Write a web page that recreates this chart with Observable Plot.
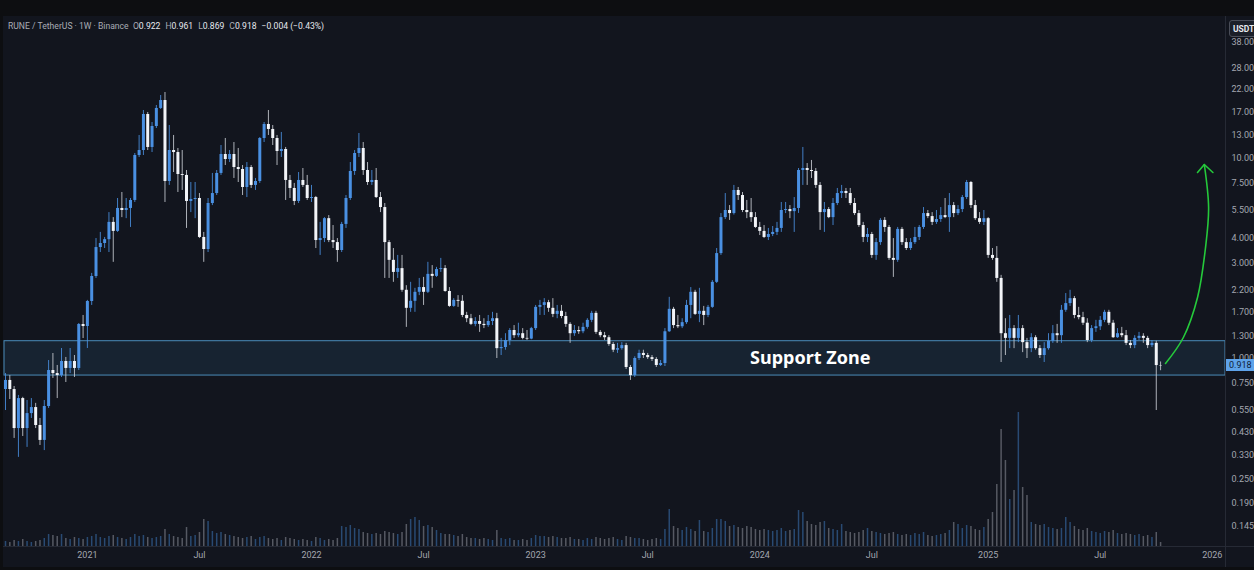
<!DOCTYPE html>
<html><head><meta charset="utf-8">
<script src="https://cdn.jsdelivr.net/npm/d3@7"></script>
<script src="https://cdn.jsdelivr.net/npm/@observablehq/plot@0.6"></script>
<style>
html,body{margin:0;padding:0;background:#0d0e11;}
#wrap{position:relative;width:1254px;height:570px;overflow:hidden;font-family:Roboto,"Noto Sans",sans-serif;}
#pane{position:absolute;left:3px;top:16px;width:1251px;height:551px;background:#12151e;}
.layer{position:absolute;left:0;top:0;}
.vsep{position:absolute;left:1225px;top:16px;width:1px;height:551px;background:#262a35;}
.hsep{position:absolute;left:3px;top:546px;width:1251px;height:1px;background:#262a35;}
#hdr{position:absolute;left:8px;top:21px;font-size:8.6px;color:#a9acb5;white-space:nowrap;}
#hdr .v{color:#e6e8ee;margin-right:5px;}
#usdt{position:absolute;left:1229px;top:20px;width:34px;height:17px;line-height:17px;background:#1b1f29;border:1px solid #4a4e59;border-radius:3px;color:#e6e8ee;font-size:8.5px;font-weight:700;padding-left:3px;box-sizing:border-box;}
#plabel{position:absolute;left:1226px;width:30px;height:12px;line-height:12px;background:#5ea3ea;color:#0e2036;font-size:9px;padding-left:3px;box-sizing:border-box;}
</style></head>
<body><div id="wrap">
<div id="pane"></div>
<div id="vol" class="layer"></div>
<div id="main" class="layer"></div>
<div class="vsep"></div><div class="hsep"></div>
<div id="hdr">RUNE / TetherUS · 1W · Binance&nbsp;&nbsp;O<span class="v">0.922</span>H<span class="v">0.961</span>L<span class="v">0.869</span>C<span class="v">0.918</span><span class="v">−0.004 (−0.43%)</span></div>
<div id="usdt">USDT</div>
<div id="plabel">0.918</div>
</div>
<script>
// ---- data: RUNE/USDT weekly candles (first week starting 2020-08-24) ----
const firstWeek = "2020-08-24";
const openP = [
0.700,0.777,0.700,0.447,0.631,0.447,0.531,0.569,0.463,0.390,
0.576,0.871,0.841,0.822,0.966,0.892,0.966,0.892,1.478,1.444,
1.926,2.566,3.58,3.75,3.92,4.78,4.31,5.61,5.48,5.61,
6.15,10.31,10.92,16.52,11.31,14.39,17.71,19.40,7.65,10.92,
10.67,8.29,8.20,6.08,6.22,6.29,4.02,3.50,5.94,6.66,
8.39,10.43,9.85,10.43,8.98,8.78,7.14,8.98,7.31,7.65,
12.54,14.73,13.91,12.54,10.80,11.05,7.74,7.06,6.08,7.74,
7.31,6.29,6.36,3.88,3.97,4.99,3.88,3.79,3.46,4.67,
6.29,8.58,10.55,11.18,8.68,7.56,7.74,6.36,5.67,3.79,
3.09,2.69,2.81,2.19,1.78,1.93,2.14,2.26,2.14,2.63,
2.57,2.78,2.81,2.16,1.82,1.95,1.93,1.64,1.58,1.48,
1.53,1.48,1.46,1.53,1.58,1.12,1.135,1.23,1.38,1.30,
1.33,1.26,1.25,1.41,1.80,1.84,1.90,1.78,1.66,1.72,
1.62,1.48,1.33,1.38,1.36,1.43,1.55,1.68,1.35,1.30,
1.27,1.175,1.10,1.12,1.16,0.902,0.822,1.00,1.06,1.035,
1.01,0.989,0.923,0.944,1.36,1.76,1.46,1.44,1.51,1.84,
2.14,1.66,1.72,1.64,1.80,2.40,3.34,5.05,5.48,5.29,
6.90,6.51,5.48,5.35,5.05,4.51,4.31,4.02,4.16,4.26,
4.46,5.48,5.54,5.41,5.61,8.68,8.88,8.68,8.58,7.31,
5.35,5.54,5.05,5.94,6.66,6.82,6.66,5.94,5.29,4.61,
4.02,4.16,3.27,3.79,4.89,4.51,3.16,3.09,4.41,3.79,
3.54,3.79,4.02,4.51,5.29,5.11,4.78,4.94,5.17,5.05,
5.80,5.29,5.54,6.36,7.56,5.80,4.99,4.78,4.99,3.27,
3.16,2.51,1.33,1.26,1.41,1.26,1.41,1.20,1.12,1.27,
1.12,1.035,1.12,1.22,1.33,1.30,1.74,1.88,1.99,1.64,
1.60,1.50,1.23,1.41,1.44,1.55,1.70,1.50,1.27,1.33,
1.30,1.19,1.16,1.26,1.29,1.26,1.16,1.19,0.922];
const highP = [
0.841,0.822,0.725,0.654,0.640,0.617,0.631,0.597,0.502,0.617,
0.977,1.059,0.923,1.122,1.012,1.122,1.035,1.495,1.64,1.95,
2.66,3.97,4.26,4.02,5.35,5.05,6.29,6.74,6.29,6.29,
10.55,12.98,17.30,16.91,15.07,18.32,20.55,21.27,14.56,12.98,
11.18,10.92,8.68,7.56,7.56,6.66,4.26,6.29,8.39,8.68,
11.57,12.54,10.92,11.97,11.18,9.19,9.51,9.19,7.92,12.68,
15.07,17.30,14.56,12.98,13.44,11.31,8.20,7.48,8.48,8.88,
8.20,7.31,6.44,4.78,5.05,5.17,4.61,3.97,4.78,6.51,
9.51,10.92,13.28,11.97,9.51,8.68,8.88,6.74,5.94,3.88,
3.54,3.27,3.27,2.31,2.40,2.24,2.51,2.54,3.02,2.91,
2.85,3.16,2.91,2.26,1.99,2.06,2.06,1.70,1.66,1.60,
1.64,1.58,1.64,1.70,1.68,1.26,1.33,1.41,1.46,1.50,
1.41,1.38,1.43,1.84,1.95,1.99,1.95,1.99,1.84,1.84,
1.70,1.51,1.46,1.44,1.50,1.58,1.72,1.72,1.38,1.35,
1.30,1.20,1.19,1.20,1.19,0.923,1.02,1.10,1.10,1.06,
1.035,1.01,0.977,1.41,2.02,1.80,1.64,1.58,1.95,2.26,
2.19,2.24,1.82,1.84,2.45,3.54,5.29,6.66,5.80,7.31,
7.14,6.74,6.15,6.29,5.35,4.78,4.61,4.46,4.56,4.78,
6.01,6.01,5.80,6.36,8.88,11.31,9.40,9.74,8.88,7.56,
6.01,5.67,6.29,7.06,7.31,7.06,7.06,6.29,5.48,4.78,
4.46,4.26,3.97,4.99,5.05,4.61,3.97,4.51,4.51,3.97,
3.97,4.51,4.61,5.67,5.48,5.35,5.48,5.67,6.29,6.66,
6.01,5.80,6.51,7.74,7.65,6.15,5.35,5.48,5.05,3.54,
3.62,2.60,1.58,1.64,1.46,1.64,1.46,1.26,1.33,1.30,
1.16,1.20,1.33,1.46,1.48,1.84,2.11,2.19,2.04,1.80,
1.70,1.58,1.46,1.55,1.62,1.74,1.74,1.55,1.41,1.43,
1.38,1.23,1.30,1.35,1.33,1.29,1.23,1.22,0.961];
const lowP = [
0.550,0.624,0.399,0.321,0.408,0.360,0.502,0.447,0.368,0.347,
0.563,0.795,0.631,0.804,0.759,0.841,0.804,0.871,1.258,1.122,
1.84,2.51,3.38,3.54,3.38,3.02,4.26,5.05,4.99,4.51,
6.01,10.08,10.31,10.92,10.67,14.06,17.50,6.01,7.31,8.48,
6.74,6.90,4.46,5.35,4.99,3.97,3.02,3.38,5.80,6.51,
8.20,9.19,9.51,7.92,7.56,6.51,6.36,7.06,6.90,7.48,
11.97,12.98,11.57,9.19,10.08,6.15,6.29,5.80,5.94,7.14,
6.15,6.01,3.54,3.27,3.79,3.79,3.54,3.02,3.38,4.46,
6.15,8.20,10.08,8.20,7.31,7.31,6.29,5.35,2.51,2.51,
2.40,2.51,2.14,1.43,1.70,1.70,2.06,1.84,2.11,2.24,
2.54,2.69,2.14,1.80,1.80,1.80,1.60,1.51,1.46,1.44,
1.35,1.41,1.43,1.46,1.00,1.035,1.10,1.16,1.26,1.27,
1.24,1.23,1.24,1.38,1.64,1.64,1.70,1.60,1.58,1.58,
1.43,1.19,1.29,1.32,1.33,1.40,1.51,1.32,1.27,1.23,
1.15,1.07,1.06,1.10,0.881,0.777,0.804,0.977,1.00,0.989,
0.966,0.902,0.912,0.912,1.35,1.41,1.41,1.41,1.48,1.58,
1.64,1.51,1.46,1.60,1.78,2.37,3.27,4.94,4.89,5.20,
6.15,5.35,4.99,4.78,4.46,4.11,3.97,3.88,4.06,4.11,
4.26,5.29,4.99,4.26,5.30,7.31,7.31,7.92,7.06,4.36,
4.26,4.99,4.61,5.80,6.29,6.29,5.80,5.17,4.51,3.79,
3.79,3.16,3.09,3.67,4.26,3.09,2.54,3.02,3.67,3.46,
3.46,3.71,3.88,4.41,4.99,4.61,4.67,4.78,4.99,4.26,
5.05,5.17,5.35,6.22,5.61,4.89,4.67,4.61,3.16,3.09,
2.40,0.955,1.035,1.12,1.12,1.20,1.07,1.00,1.07,1.10,
1.00,0.955,1.10,1.19,1.19,1.19,1.70,1.82,1.58,1.56,
1.46,1.20,1.20,1.35,1.38,1.51,1.46,1.26,1.26,1.27,
1.16,1.12,1.12,1.23,1.19,1.12,1.135,0.550,0.869];
const closeP = [
0.777,0.700,0.447,0.631,0.447,0.531,0.569,0.463,0.390,0.576,
0.871,0.841,0.822,0.966,0.892,0.966,0.892,1.478,1.444,1.926,
2.566,3.58,3.75,3.92,4.78,4.31,5.61,5.48,5.61,6.15,
10.31,10.92,16.52,11.31,14.39,17.71,19.40,7.65,10.92,10.67,
8.29,8.20,6.08,6.22,6.29,4.02,3.50,5.94,6.66,8.39,
10.43,9.85,10.43,8.98,8.78,7.14,8.98,7.31,7.65,12.54,
14.73,13.91,12.54,10.80,11.05,7.74,7.06,6.08,7.74,7.31,
6.29,6.36,3.88,3.97,4.99,3.88,3.79,3.46,4.67,6.29,
8.58,10.55,11.18,8.68,7.56,7.74,6.36,5.67,3.79,3.09,
2.69,2.81,2.19,1.78,1.93,2.14,2.26,2.14,2.63,2.57,
2.78,2.81,2.16,1.82,1.95,1.93,1.64,1.58,1.48,1.53,
1.48,1.46,1.53,1.58,1.12,1.135,1.23,1.38,1.30,1.33,
1.26,1.25,1.41,1.80,1.84,1.90,1.78,1.66,1.72,1.62,
1.48,1.33,1.38,1.36,1.43,1.55,1.68,1.35,1.30,1.27,
1.175,1.10,1.12,1.16,0.902,0.822,1.00,1.06,1.035,1.01,
0.989,0.923,0.944,1.36,1.76,1.46,1.44,1.51,1.84,2.14,
1.66,1.72,1.64,1.80,2.40,3.34,5.05,5.48,5.29,6.90,
6.51,5.48,5.35,5.05,4.51,4.31,4.02,4.16,4.26,4.46,
5.48,5.54,5.41,5.61,8.68,8.88,8.68,8.58,7.31,5.35,
5.54,5.05,5.94,6.66,6.82,6.66,5.94,5.29,4.61,4.02,
4.16,3.27,3.79,4.89,4.51,3.16,3.09,4.41,3.79,3.54,
3.79,4.02,4.51,5.29,5.11,4.78,4.94,5.17,5.05,5.80,
5.29,5.54,6.36,7.56,5.80,4.99,4.78,4.99,3.27,3.16,
2.51,1.33,1.26,1.41,1.26,1.41,1.20,1.12,1.27,1.12,
1.035,1.12,1.22,1.33,1.30,1.74,1.88,1.99,1.64,1.60,
1.50,1.23,1.41,1.44,1.55,1.70,1.50,1.27,1.33,1.30,
1.19,1.16,1.26,1.29,1.26,1.16,1.19,0.922,0.918];
const volumeM = [
5,4,6,5,7,5,4,5,6,8,
12,11,10,12,8,7,9,8,7,9,
10,12,9,8,10,11,9,8,7,9,
12,10,11,9,8,9,10,17,12,10,
9,8,19,10,11,14,27,25,15,13,
14,12,11,10,9,8,9,10,7,9,
10,8,7,8,6,9,8,7,6,7,
6,5,9,8,6,7,6,8,20,19,
21,18,17,14,13,12,13,12,15,14,
13,12,14,22,27,29,26,20,21,19,
16,13,12,12,11,10,12,9,8,8,
7,8,7,6,16,8,7,8,6,6,
7,6,8,11,10,10,9,10,9,8,
8,9,7,7,6,8,7,9,8,7,
8,9,7,6,10,9,8,8,7,6,
7,8,7,17,37,20,18,16,19,17,
15,26,15,14,18,27,27,25,20,21,
19,18,20,19,17,16,17,16,15,16,
18,15,16,17,36,34,25,22,21,24,
25,18,17,16,22,15,14,13,14,16,
18,15,14,13,12,13,14,12,11,12,
11,13,12,14,11,10,11,12,13,16,
24,22,18,21,20,17,16,19,27,34,
62,117,86,47,56,134,59,51,24,22,
21,22,19,18,17,18,29,24,20,17,
16,18,15,14,13,15,14,16,13,12,
13,12,11,12,10,11,9,14,4];

const priceTicks = [0.145,0.19,0.25,0.33,0.43,0.55,0.75,1.0,1.3,1.7,2.2,3,4,5.5,7.5,10,13,17,22,28,38];
const timeTickDates = ["2021-01-04","2021-07-05","2022-01-03","2022-07-04","2023-01-02","2023-07-03","2024-01-01","2024-07-01","2025-01-06","2025-07-07","2026-01-05"];
const timeTickLabels = ["2021","Jul","2022","Jul","2023","Jul","2024","Jul","2025","Jul","2026"];
const supportZone = [{low:0.822, high:1.22}];
const zoneLabel = [{date:"2024-03-23", price:1.0, text:"Support Zone"}];
const arrowPathDates = ["2025-10-21","2025-11-19","2025-12-12","2025-12-25","2025-12-30","2025-12-23"];
const arrowPathPrices = [0.944,1.273,2.016,3.58,5.67,9.30];
const arrowHeadDates = ["2025-12-12","2025-12-23","2026-01-06"];
const arrowHeadPrices = [8.48,9.30,8.48];

// ---- build tables ----
const t0 = new Date(firstWeek + "T00:00:00Z");
const candles = closeP.map((c,i)=>({
  date: d3.utcDay.offset(t0, 7*i),
  open: openP[i], high: highP[i], low: lowP[i], close: c, volume: volumeM[i],
  up: c >= openP[i]
}));
const lastDate = candles[candles.length-1].date;
const ticksX = timeTickDates.map((d,i)=>({date:new Date(d+"T00:00:00Z"), label:timeTickLabels[i], year:timeTickLabels[i]!=="Jul"}));
const zl = zoneLabel.map(d=>({...d, date:new Date(d.date+"T00:00:00Z")}));
const arrowPath = arrowPathDates.map((d,i)=>({date:new Date(d+"T00:00:00Z"), price:arrowPathPrices[i]}));
const arrowHead = arrowHeadDates.map((d,i)=>({date:new Date(d+"T00:00:00Z"), price:arrowHeadPrices[i]}));

const UP = "#4a90e2", DOWN = "#f2f4f8";
const spacing = 4.31;
const xScale = {type:"utc", domain:[t0, lastDate], range:[5, 5 + spacing*(candles.length-1)]};
const yPx = v => 358 - 87*Math.log(v);
const yScale = {type:"log", domain:[0.1, 50], range:[yPx(0.1), yPx(50)]};
const fmt3 = d3.format(".3f");

const main = Plot.plot({
  width:1254, height:570, marginLeft:4, marginRight:29, marginTop:16, marginBottom:24,
  style:{background:"transparent", color:"#a3a6af", fontFamily:"Roboto, 'Noto Sans', sans-serif", fontSize:"9px", overflow:"visible"},
  x:{...xScale, axis:null}, y:{...yScale, axis:null},
  marks:[
    Plot.rect(supportZone, {y1:"low", y2:"high", fill:"#172331", stroke:"#4a8bb8", strokeWidth:1}),
    Plot.ruleX(candles, {x:"date", y1:"low", y2:"high", stroke:d=>d.up?UP:"#c9ccd3", strokeOpacity:0.85, strokeWidth:1}),
    Plot.ruleX(candles, {x:"date", y1:"open", y2:"close", stroke:d=>d.up?UP:DOWN, strokeWidth:3}),
    Plot.text(zl, {x:"date", y:"price", text:"text", fill:"#ffffff", fontSize:18, fontWeight:700, fontFamily:"'Noto Sans', sans-serif"}),
    Plot.line(arrowPath, {x:"date", y:"price", curve:"catmull-rom", stroke:"#25c93b", strokeWidth:1.6}),
    Plot.line(arrowHead, {x:"date", y:"price", stroke:"#25c93b", strokeWidth:1.6}),
    Plot.text(priceTicks, {y:d=>d, frameAnchor:"right", dx:6, textAnchor:"start", text:d=>fmt3(d), fill:"#a3a6af", fontSize:9}),
    Plot.text(ticksX, {x:"date", frameAnchor:"bottom", dy:11, text:"label", fill:"#a3a6af", fontSize:9, fontWeight:d=>d.year?600:400})
  ]
});
document.getElementById("main").appendChild(main);

const vol = Plot.plot({
  width:1254, height:570, margin:0,
  style:{background:"transparent"},
  x:{...xScale, axis:null}, y:{domain:[0,140], range:[546,406], axis:null},
  marks:[
    Plot.ruleX(candles, {x:"date", y1:0, y2:"volume", stroke:d=>d.up?"#3f7fc8":"#9a9ea8", strokeOpacity:0.5, strokeWidth:1.5})
  ]
});
document.getElementById("vol").appendChild(vol);

const ys = main.scale("y");
document.getElementById("plabel").style.top = (ys.apply(closeP[closeP.length-1]) - 6) + "px";
</script>
</body></html>
